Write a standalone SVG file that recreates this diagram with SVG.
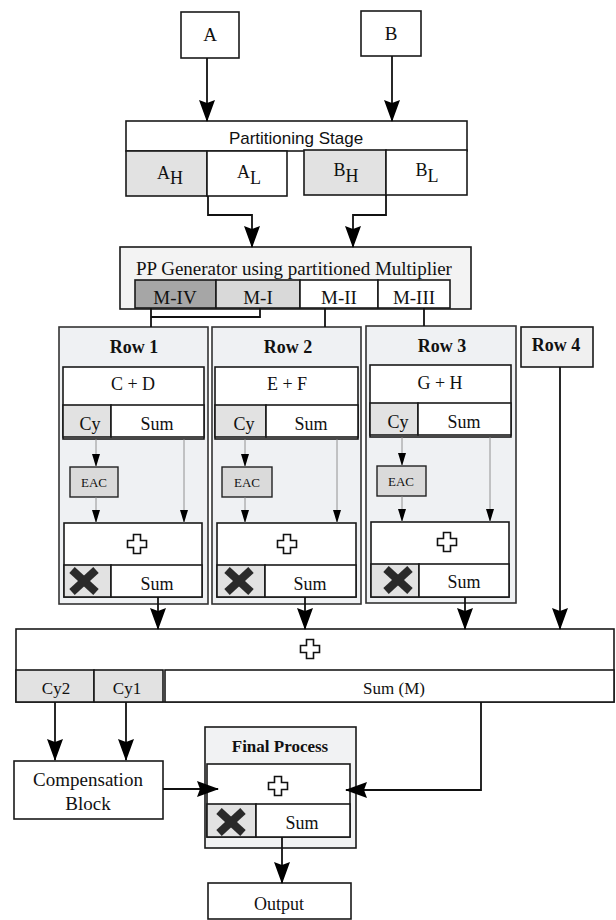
<svg xmlns="http://www.w3.org/2000/svg" width="616" height="920" viewBox="0 0 616 920">
<style>
.bx{fill:#fff;stroke:#1a1a1a;stroke-width:1.6}
.gr{fill:#e2e2e2;stroke:#1a1a1a;stroke-width:1.6}
.pn{fill:#eff1f3;stroke:#333;stroke-width:1.6}
.eac{fill:#dadada;stroke:#222;stroke-width:1.4}
.s{font-family:"Liberation Serif","Times New Roman",serif;fill:#111;text-anchor:middle}
.a{font-family:"Liberation Sans",Arial,sans-serif;fill:#111;text-anchor:middle}
.b{font-weight:bold}
.c{stroke:#111;stroke-width:1.8;fill:none}
.t{stroke:#888;stroke-width:0.9;fill:none}
</style>
<defs>
<marker id="big" viewBox="0 0 22 16" refX="21" refY="8" markerWidth="22" markerHeight="16" markerUnits="userSpaceOnUse" orient="auto">
<path d="M0,0 L22,8 L0,16 L3,8 Z" fill="#000"/>
</marker>
<marker id="sm" viewBox="0 0 13 8" refX="13" refY="4" markerWidth="13" markerHeight="8" markerUnits="userSpaceOnUse" orient="auto">
<path d="M0,0 L13,4 L0,8 Z" fill="#000"/>
</marker>
<path id="plus" d="M-3.5,-9.5 H3.5 V-3.5 H9.5 V3.5 H3.5 V9.5 H-3.5 V3.5 H-9.5 V-3.5 H-3.5 Z" fill="#fff" stroke="#111" stroke-width="1.6"/>
<g id="xm" stroke="#2a2a2a" stroke-width="8">
<line x1="-12" y1="-11" x2="12" y2="11"/>
<line x1="12" y1="-11" x2="-12" y2="11"/>
</g>
</defs>

<g id="nodeA"><rect class="bx" x="181" y="12" width="58" height="46"/><text class="s" x="210" y="41" font-size="19">A</text></g>
<g id="nodeB"><rect class="bx" x="361" y="11" width="60" height="45"/><text class="s" x="391" y="40" font-size="19">B</text></g>

<g id="partition">
<rect class="bx" x="126" y="121" width="341" height="30"/>
<text class="a" x="296" y="144" font-size="17">Partitioning Stage</text>
<rect class="gr" x="126" y="151" width="81" height="45"/>
<text class="s" x="170" y="179" font-size="18">A<tspan dy="5">H</tspan></text>
<rect class="bx" x="207" y="151" width="80" height="45"/>
<text class="s" x="249" y="178" font-size="18">A<tspan dy="6">L</tspan></text>
<rect class="gr" x="304" y="150" width="82" height="45"/>
<text class="s" x="346" y="176" font-size="18">B<tspan dy="6">H</tspan></text>
<rect class="bx" x="386" y="150" width="81" height="45"/>
<text class="s" x="427" y="176" font-size="18">B<tspan dy="6">L</tspan></text>
</g>

<g id="ppgen">
<rect x="120" y="247" width="351" height="62" fill="#f3f3f3" stroke="#1a1a1a" stroke-width="1.6"/>
<text class="s" x="294" y="275" font-size="19">PP Generator using partitioned Multiplier</text>
<rect x="135" y="280" width="81" height="28" fill="#a6a6a6" stroke="#1a1a1a" stroke-width="1.6"/>
<text class="s" x="175" y="304" font-size="19">M-IV</text>
<rect x="216" y="280" width="84" height="28" fill="#d9d9d9" stroke="#1a1a1a" stroke-width="1.6"/>
<text class="s" x="258" y="304" font-size="19">M-I</text>
<rect class="bx" x="300" y="280" width="78" height="28"/>
<text class="s" x="339" y="304" font-size="19">M-II</text>
<rect class="bx" x="378" y="280" width="72" height="28"/>
<text class="s" x="414" y="304" font-size="19">M-III</text>
</g>

<g id="row1">
<rect class="pn" x="59" y="327" width="149" height="277"/>
<text class="s b" x="134" y="353" font-size="18">Row 1</text>
<rect class="bx" x="63" y="367" width="141" height="72"/>
<text class="s" x="133" y="390" font-size="18">C + D</text>
<rect class="gr" x="63" y="405" width="48" height="32"/>
<rect class="bx" x="111" y="405" width="93" height="32"/>
<text class="s" x="90" y="430" font-size="18">Cy</text>
<text class="s" x="157" y="430" font-size="18">Sum</text>
<rect class="eac" x="70" y="467" width="48" height="30"/>
<text class="s" x="94" y="487" font-size="13">EAC</text>
<rect class="bx" x="64" y="523" width="138" height="74"/>
<use href="#plus" x="137" y="544"/>
<rect class="gr" x="64" y="565" width="47" height="32"/>
<rect class="bx" x="111" y="565" width="91" height="32"/>
<use href="#xm" x="84" y="581"/>
<text class="s" x="157" y="590" font-size="18">Sum</text>
</g>

<g id="row2">
<rect class="pn" x="212" y="327" width="149" height="277"/>
<text class="s b" x="288" y="353" font-size="18">Row 2</text>
<rect class="bx" x="215" y="367" width="143" height="72"/>
<text class="s" x="287" y="390" font-size="18">E + F</text>
<rect class="gr" x="215" y="405" width="51" height="32"/>
<rect class="bx" x="266" y="405" width="92" height="32"/>
<text class="s" x="244" y="430" font-size="18">Cy</text>
<text class="s" x="311" y="430" font-size="18">Sum</text>
<rect class="eac" x="222" y="467" width="50" height="30"/>
<text class="s" x="247" y="487" font-size="13">EAC</text>
<rect class="bx" x="217" y="523" width="139" height="74"/>
<use href="#plus" x="287" y="544"/>
<rect class="gr" x="217" y="565" width="48" height="32"/>
<rect class="bx" x="265" y="565" width="91" height="32"/>
<use href="#xm" x="239" y="581"/>
<text class="s" x="310" y="590" font-size="18">Sum</text>
</g>

<g id="row3">
<rect class="pn" x="366" y="326" width="150" height="277"/>
<text class="s b" x="442" y="352" font-size="18">Row 3</text>
<rect class="bx" x="370" y="365" width="141" height="72"/>
<text class="s" x="440" y="389" font-size="18">G + H</text>
<rect class="gr" x="370" y="403" width="48" height="32"/>
<rect class="bx" x="418" y="403" width="93" height="32"/>
<text class="s" x="398" y="428" font-size="18">Cy</text>
<text class="s" x="464" y="428" font-size="18">Sum</text>
<rect class="eac" x="377" y="466" width="49" height="30"/>
<text class="s" x="401" y="486" font-size="13">EAC</text>
<rect class="bx" x="371" y="522" width="138" height="75"/>
<use href="#plus" x="447" y="542"/>
<rect class="gr" x="371" y="564" width="48" height="33"/>
<rect class="bx" x="419" y="564" width="90" height="33"/>
<use href="#xm" x="398" y="580"/>
<text class="s" x="464" y="588" font-size="18">Sum</text>
</g>

<g id="row4">
<rect x="521" y="327" width="72" height="40" fill="#f0f0f0" stroke="#1a1a1a" stroke-width="1.6"/>
<text class="s b" x="556" y="351" font-size="18">Row 4</text>
</g>

<g id="bigadder">
<rect class="bx" x="16" y="629" width="598" height="73"/>
<use href="#plus" x="310" y="649"/>
<rect class="gr" x="16" y="670" width="78" height="32"/>
<text class="s" x="56" y="694" font-size="17">Cy2</text>
<rect class="gr" x="94" y="670" width="69" height="32"/>
<text class="s" x="127" y="694" font-size="17">Cy1</text>
<rect class="bx" x="165" y="670" width="449" height="32"/>
<text class="s" x="394" y="694" font-size="17">Sum (M)</text>
</g>

<g id="compensation">
<rect class="bx" x="14" y="761" width="149" height="58"/>
<text class="s" x="88" y="786" font-size="19">Compensation</text>
<text class="s" x="88" y="810" font-size="19">Block</text>
</g>

<g id="final">
<rect x="205" y="727" width="151" height="121" fill="#f1f2f3" stroke="#1a1a1a" stroke-width="1.6"/>
<text class="s b" x="280" y="752" font-size="17">Final Process</text>
<rect class="bx" x="207" y="764" width="143" height="73"/>
<use href="#plus" x="278" y="786"/>
<rect class="gr" x="207" y="804" width="49" height="33"/>
<rect class="bx" x="256" y="804" width="94" height="33"/>
<use href="#xm" x="231" y="822"/>
<text class="s" x="302" y="829" font-size="18">Sum</text>
</g>

<g id="output">
<rect class="bx" x="208" y="883" width="143" height="36"/>
<text class="s" x="279" y="910" font-size="18">Output</text>
</g>

<g id="connectors">
<path class="c" d="M207,58 V121" marker-end="url(#big)"/>
<path class="c" d="M392,56 V121" marker-end="url(#big)"/>
<path class="c" d="M208,196 V215 H252 V247" marker-end="url(#big)"/>
<path class="c" d="M386,195 V215 H353 V247" marker-end="url(#big)"/>
<path class="c" d="M151,308 V327 M151,317 H260 V308"/>
<path class="c" d="M325,308 V327"/>
<path class="c" d="M424,308 V326"/>
<path class="t" d="M96,439 V467" marker-end="url(#sm)"/>
<path class="t" d="M96,497 V523" marker-end="url(#sm)"/>
<path class="t" d="M184,439 V523" marker-end="url(#sm)"/>
<path class="t" d="M245,439 V467" marker-end="url(#sm)"/>
<path class="t" d="M245,497 V523" marker-end="url(#sm)"/>
<path class="t" d="M337,439 V523" marker-end="url(#sm)"/>
<path class="t" d="M402,437 V466" marker-end="url(#sm)"/>
<path class="t" d="M402,496 V522" marker-end="url(#sm)"/>
<path class="t" d="M490,437 V522" marker-end="url(#sm)"/>
<path class="c" d="M158,597 V629" marker-end="url(#big)"/>
<path class="c" d="M305,597 V629" marker-end="url(#big)"/>
<path class="c" d="M465,597 V629" marker-end="url(#big)"/>
<path class="c" d="M560,367 V629" marker-end="url(#big)"/>
<path class="c" d="M55,702 V760" marker-end="url(#big)"/>
<path class="c" d="M126,702 V760" marker-end="url(#big)"/>
<path class="c" d="M163,789 H218" marker-end="url(#big)"/>
<path class="c" d="M481,702 V790 H346" marker-end="url(#big)"/>
<path class="c" d="M282,837 V883" marker-end="url(#big)"/>
</g>
</svg>
